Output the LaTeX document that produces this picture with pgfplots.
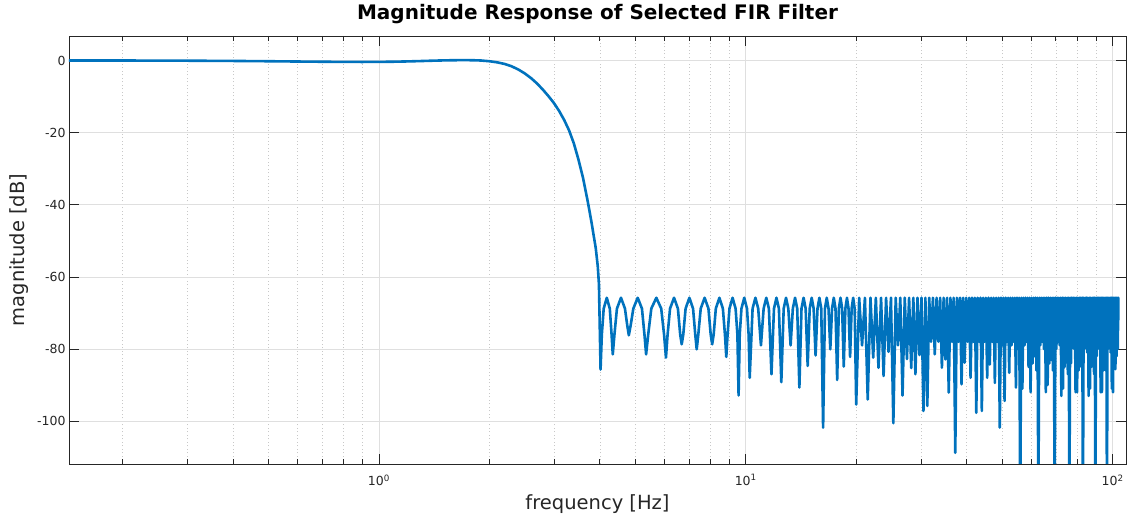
\documentclass[border=0pt]{standalone}
\usepackage{fontspec}
\setmainfont{DejaVu Sans}
\usepackage{pgfplots}
\pgfplotsset{compat=1.18}
\definecolor{mblue}{RGB}{0,114,189}
\definecolor{axgray}{RGB}{38,38,38}
\definecolor{gridmaj}{RGB}{223,223,223}
\definecolor{gridmin}{RGB}{200,200,200}
\begin{document}
\begin{tikzpicture}
\path[use as bounding box] (-69pt,-57pt) rectangle (1062pt,464pt);
\begin{axis}[
 scale only axis, width=1057pt, height=428pt,
 xmode=log, xmin=0.143, xmax=108.8, ymin=-111.9, ymax=6.8,
 xtick={1,10,100},
 xticklabels={10\textsuperscript{0},10\textsuperscript{1},10\textsuperscript{2}},
 minor xtick={0.2,0.3,0.4,0.5,0.6,0.7,0.8,0.9,2,3,4,5,6,7,8,9,20,30,40,50,60,70,80,90},
 ytick={-100,-80,-60,-40,-20,0},
 yticklabels={-100,-80,-60,-40,-20,0},
 xmajorgrids, xminorgrids, ymajorgrids,
 major grid style={draw=gridmaj, line width=0.6pt},
 minor grid style={draw=gridmin, line width=0.5pt, dash pattern=on 1pt off 2.5pt},
 major tick length=10pt, minor tick length=5pt,
 tick style={draw=axgray, line width=0.6pt},
 axis line style={draw=axgray, line width=0.6pt},
 ticklabel style={font=\fontsize{12.5}{14}\selectfont, text=axgray},
 xticklabel style={yshift=-7pt},
 title={Magnitude Response of Selected FIR Filter},
 title style={font=\bfseries\fontsize{20}{24}\selectfont, at={(axis description cs:0.5,1.0374)}, anchor=center},
 xlabel={frequency [Hz]}, ylabel={magnitude [dB]},
 xlabel style={font=\fontsize{19.5}{23}\selectfont, text=axgray, at={(axis description cs:0.5,-0.0935)}, anchor=center},
 ylabel style={font=\fontsize{19.5}{23}\selectfont, text=axgray, at={(axis description cs:-0.0473,0.5)}, anchor=center},
]
\addplot[color=mblue, line width=2.6pt, line join=round] coordinates {
(0.143,0.00) (0.2,0.00) (0.3,-0.05) (0.4,-0.12) (0.5,-0.20) (0.6,-0.28) (0.7,-0.34) (0.8,-0.38) (0.9,-0.40) (1.0,-0.38)
(1.1,-0.33) (1.2,-0.25) (1.3,-0.15) (1.4,-0.05) (1.5,0.03) (1.6,0.08) (1.7,0.10) (1.8,0.08) (1.9,0.00) (2.0,-0.20)
(2.1,-0.50) (2.2,-0.95) (2.3,-1.6) (2.4,-2.5) (2.5,-3.6) (2.6,-4.9) (2.7,-6.4) (2.8,-8.1) (2.9,-9.9) (3.0,-11.8)
(3.1,-14.0) (3.2,-16.5) (3.3,-19.4) (3.4,-23.0) (3.5,-27.5) (3.6,-32.5) (3.7,-38.5) (3.75,-41.7) (3.8,-45.0) (3.85,-48.5)
(3.9,-52.0) (3.95,-57.0) (3.98,-62.0) (4.02,-85.7)
(4.052,-76) (4.10,-68.8) (4.18,-65.8) (4.26,-68.8) (4.308,-76) (4.34,-81.5)
(4.386,-76) (4.455,-68.8) (4.57,-65.8) (4.685,-68.8) (4.754,-73.5) (4.80,-76.2)
(4.855,-73.5) (4.9375,-68.8) (5.075,-65.8) (5.2125,-68.8) (5.295,-76) (5.35,-81.5)
(5.421,-76) (5.5275,-68.8) (5.705,-65.8) (5.8825,-68.8) (5.989,-76) (6.06,-82.4)
(6.123,-76) (6.2175,-68.8) (6.375,-65.8) (6.5325,-68.8) (6.627,-76) (6.69,-78.7)
(6.756,-76) (6.855,-68.8) (7.02,-65.8) (7.185,-68.8) (7.284,-76) (7.35,-80.1)
(7.425,-76) (7.5375,-68.8) (7.725,-65.8) (7.9125,-68.8) (8.025,-76) (8.10,-78.7)
(8.175,-76) (8.2875,-68.8) (8.475,-65.8) (8.6625,-68.8) (8.775,-76) (8.85,-82.2)
(8.921,-76) (9.0275,-68.8) (9.205,-65.8) (9.3825,-68.8) (9.489,-76) (9.56,-92.9)
(9.629,-76) (9.7325,-68.8) (9.905,-65.8) (10.0775,-68.8) (10.181,-76) (10.25,-88.0)
(10.4375,-68.8) (10.625,-65.8) (10.8125,-68.8) (11.00,-79.0)
(11.1875,-68.8) (11.375,-65.8) (11.5625,-68.8) (11.75,-87.0)
(11.9375,-68.8) (12.125,-65.8) (12.3125,-68.8) (12.50,-89.2)
(12.6875,-68.8) (12.875,-65.8) (13.0625,-68.8) (13.25,-79.0)
(13.4375,-68.8) (13.625,-65.8) (13.8125,-68.8) (14.00,-90.7)
(14.1875,-68.8) (14.375,-65.8) (14.5625,-68.8) (14.75,-84.7)
(14.9375,-68.8) (15.125,-65.8) (15.3125,-68.8) (15.50,-81.8)
(15.6875,-68.8) (15.875,-65.8) (16.0625,-68.8) (16.25,-101.8)
(16.4375,-68.8) (16.625,-65.8) (16.8125,-68.8) (17.00,-80.1)
(17.1875,-68.8) (17.375,-65.8) (17.5625,-68.8) (17.75,-88.6)
(17.9375,-68.8) (18.125,-65.8) (18.3125,-68.8) (18.50,-84.9)
(18.6875,-68.8) (18.875,-65.8) (19.0625,-68.8) (19.25,-82.2)
(19.4375,-68.8) (19.625,-65.8) (19.8125,-68.8) (20.00,-95.4)
(20.375,-65.8) (20.75,-79) (21.125,-65.8) (21.50,-94) (21.875,-65.8) (22.25,-82.4) (22.625,-65.8) (23.00,-85.2)
(23.375,-65.8) (23.75,-87.5) (24.125,-65.8) (24.50,-80.8) (24.875,-65.8) (25.25,-100.6) (25.625,-65.8) (26.00,-79)
(26.375,-65.8) (26.75,-92.9) (27.125,-65.8) (27.50,-82.8) (27.875,-65.8) (28.25,-85.3) (28.625,-65.8) (29.00,-87)
(29.375,-65.8) (29.75,-81.7) (30.125,-65.8) (30.50,-97.2) (30.875,-65.8) (31.25,-95.8) (31.625,-65.8) (32.00,-78)
(32.375,-65.8) (32.75,-81.5) (33.125,-65.8) (33.50,-78) (33.875,-65.8) (34.25,-85.2) (34.625,-65.8) (35.00,-82.9)
(35.375,-65.8) (35.75,-92.1) (36.125,-65.8) (36.50,-78) (36.875,-65.8) (37.25,-108.8) (37.625,-65.8) (38.00,-78)
(38.375,-65.8) (38.75,-89.8) (39.125,-65.8) (39.50,-83.8) (39.875,-65.8) (40.25,-78) (40.625,-65.8) (41.00,-88)
(41.375,-65.8) (41.75,-78) (42.125,-65.8) (42.50,-97.7) (42.875,-65.8) (43.25,-78) (43.625,-65.8) (44.00,-97.2)
(44.375,-65.8) (44.75,-78) (45.125,-65.8) (45.50,-88) (45.875,-65.8) (46.25,-84.3) (46.625,-65.8) (47.00,-78)
(47.375,-65.8) (47.75,-89.4) (48.125,-65.8) (48.50,-78) (48.875,-65.8) (49.25,-101.8) (49.625,-65.8) (50.00,-79)
(50.375,-65.8) (50.75,-94.4) (51.125,-65.8) (51.50,-78) (51.875,-65.8) (52.25,-86.6) (52.625,-65.8) (53.00,-79)
(53.375,-65.8) (53.75,-78) (54.125,-65.8) (54.50,-90.7) (54.875,-65.8) (55.25,-80) (55.625,-65.8) (56.00,-125)
(56.375,-65.8) (56.75,-91) (57.125,-65.8) (57.50,-79) (57.875,-65.8) (58.25,-78) (58.625,-65.8) (59.00,-85)
(59.375,-65.8) (59.75,-92) (60.125,-65.8) (60.50,-84) (60.875,-65.8) (61.25,-82) (61.625,-65.8) (62.00,-86)
(62.375,-65.8) (62.75,-125) (63.125,-65.8) (63.50,-79) (63.875,-65.8) (64.25,-78) (64.625,-65.8) (65.00,-80)
(65.375,-65.8) (65.75,-92) (66.125,-65.8) (66.50,-90) (66.875,-65.8) (67.25,-84) (67.625,-65.8) (68.00,-83)
(68.375,-65.8) (68.75,-86) (69.125,-65.8) (69.50,-125) (69.875,-65.8) (70.25,-80) (70.625,-65.8) (71.00,-78)
(71.375,-65.8) (71.75,-79) (72.125,-65.8) (72.50,-93) (72.875,-65.8) (73.25,-91) (73.625,-65.8) (74.00,-85)
(74.375,-65.8) (74.75,-82) (75.125,-65.8) (75.50,-87) (75.875,-65.8) (76.25,-125) (76.625,-65.8) (77.00,-84)
(77.375,-65.8) (77.75,-78) (78.125,-65.8) (78.50,-80) (78.875,-65.8) (79.25,-92) (79.625,-65.8) (80.00,-92)
(80.375,-65.8) (80.75,-86) (81.125,-65.8) (81.50,-83) (81.875,-65.8) (82.25,-85) (82.625,-65.8) (83.00,-125)
(83.375,-65.8) (83.75,-80) (84.125,-65.8) (84.50,-79) (84.875,-65.8) (85.25,-81) (85.625,-65.8) (86.00,-93)
(86.375,-65.8) (86.75,-91) (87.125,-65.8) (87.50,-85) (87.875,-65.8) (88.25,-83) (88.625,-65.8) (89.00,-87)
(89.375,-65.8) (89.75,-125) (90.125,-65.8) (90.50,-82) (90.875,-65.8) (91.25,-79) (91.625,-65.8) (92.00,-80)
(92.375,-65.8) (92.75,-92) (93.125,-65.8) (93.50,-92) (93.875,-65.8) (94.25,-86) (94.625,-65.8) (95.00,-84)
(95.375,-65.8) (95.75,-86) (96.125,-65.8) (96.50,-125) (96.875,-65.8) (97.25,-80) (97.625,-65.8) (98.00,-78)
(98.375,-65.8) (98.75,-81) (99.125,-65.8) (99.50,-91) (99.875,-65.8) (100.25,-92) (100.625,-65.8) (101.00,-85)
(101.375,-65.8) (101.75,-85.6) (102.125,-65.8) (102.50,-82) (102.875,-65.8) (103.25,-80) (103.625,-65.8) (103.7,-72)
};
\end{axis}
\end{tikzpicture}
\end{document}
